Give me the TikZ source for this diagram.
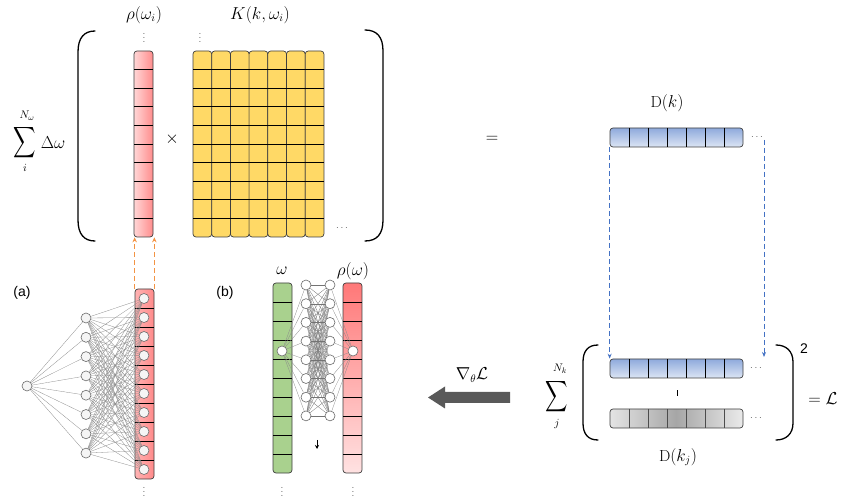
\documentclass[tikz,border=0pt]{standalone}
\usepackage{exscale}
\usepackage{fontspec}
\usepackage{graphicx}
\usetikzlibrary{arrows.meta,calc}
\newfontfamily\arialf{Liberation Sans}
\newcommand\myvd{\vbox{\baselineskip3.6pt\lineskiplimit0pt\hbox{.}\hbox{.}\hbox{.}}}
\definecolor{barline}{HTML}{3F3F3F}
\definecolor{kyellow}{HTML}{FFD966}
\definecolor{rhoL}{HTML}{FFD6D6}
\definecolor{rhoR}{HTML}{FF8C8C}
\definecolor{rhoAL}{HTML}{FFB3B3}
\definecolor{rhoAR}{HTML}{FF8A8A}
\definecolor{rhoBT}{HTML}{FF7878}
\definecolor{rhoBB}{HTML}{FFE2E2}
\definecolor{greenbar}{HTML}{A9D18E}
\definecolor{blueT}{HTML}{8FAADC}
\definecolor{blueB}{HTML}{DCE5F4}
\definecolor{grayL}{HTML}{E4E4E4}
\definecolor{grayM}{HTML}{A6A6A6}
\definecolor{grayR}{HTML}{EAEAEA}
\definecolor{orangeArr}{HTML}{F39444}
\definecolor{blueDash}{HTML}{4472C4}
\definecolor{edgegray}{HTML}{8C8C8C}
\definecolor{nodeline}{HTML}{6A6A6A}
\definecolor{nodefill}{HTML}{F5F5F5}
\definecolor{bigarrow}{HTML}{595959}
\pgfdeclarelayer{bg}
\pgfdeclarelayer{edge}
\pgfsetlayers{bg,edge,main}
\begin{document}
\begin{tikzpicture}[x=1pt,y=-1pt,
  lbl/.style={inner sep=0pt,font=\fontsize{16}{18}\selectfont},
  small/.style={inner sep=0pt,font=\fontsize{11}{12}\selectfont},
  dotsty/.style={inner sep=0pt,font=\fontsize{10}{11}\selectfont,text=black!65},
  bar/.style={draw=barline,line width=0.7pt,rounded corners=3pt,inner sep=0pt,minimum width=19pt},
  cell/.style={line width=0.6pt,draw=black},
  neuron/.style={circle,draw=nodeline,fill=nodefill,line width=0.6pt,minimum size=10pt,inner sep=0pt},
  syn/.style={draw=edgegray,line width=0.3pt},
  paren/.style={line width=1.3pt,line cap=round},
  odash/.style={draw=orangeArr,line width=1.2pt,dash pattern=on 5pt off 3pt,-{Stealth[length=5pt,width=4.5pt]}},
  bdash/.style={draw=blueDash,line width=0.9pt,dash pattern=on 5pt off 3pt,-{Stealth[length=5pt,width=4pt]}},
  sansl/.style={inner sep=0pt,font=\arialf\fontsize{14}{16}\selectfont},
  bigsum/.style={inner sep=0pt},
]
\useasboundingbox (0,0) rectangle (857,502);

% ---------------- top: sum expression ----------------
\node[bigsum] (sumA) at (25,143) {\scalebox{0.9}[1.25]{\fontsize{16}{18}\selectfont$\displaystyle\sum$}};
\node[small] (sumAup) at (27,116) {$N_\omega$};
\node[small] (sumAlo) at (25,168) {$i$};
\node[lbl] (dw) at (53,143) {$\Delta\omega$};

\draw[paren] (95,31) .. controls (84,31) and (78,38) .. (78,52) -- (78,220) .. controls (78,234) and (84,241) .. (95,241);
\draw[paren] (365,30) .. controls (377,30) and (383,37) .. (383,51) -- (383,220) .. controls (383,234) and (377,241) .. (365,241);

\begin{pgfonlayer}{bg}
\node[bar,minimum height=186pt,left color=rhoL,right color=rhoR] (rhoT) at (143.5,144) {};
\foreach \i in {1,...,9} \draw[cell] (134,{51+18.6*\i}) -- (153,{51+18.6*\i});
\foreach \c in {1,...,7} \node[bar,minimum width=18.7pt,minimum height=186pt,fill=kyellow] (K\c) at ({193+18.7*(\c-0.5)},144) {};
\foreach \i in {1,...,9} \draw[cell] (193,{51+18.6*\i}) -- (324,{51+18.6*\i});
\end{pgfonlayer}

\node[lbl] (rhoLab) at (144,15) {$\rho(\omega_i)$};
\node[lbl] (KLab) at (260,15) {$K(k,\omega_i)$};
\node[dotsty] (vd1) at (144,38) {\myvd};
\node[dotsty] (vd2) at (200,38) {\myvd};
\node[lbl] (times) at (172,139) {$\times$};
\node[dotsty] (hd1) at (342,228) {$\cdots$};
\node[lbl] (eq1) at (492,139) {$=$};

% ---------------- right: D(k) ----------------
\node[lbl] (DkLab) at (667,103) {$\mathrm{D}(k)$};
\begin{pgfonlayer}{bg}
\node[bar,minimum width=133pt,minimum height=19pt,top color=blueT,bottom color=blueB] (Dk) at (676.5,137.5) {};
\foreach \i in {1,...,6} \draw[cell] ({610+19*\i},128) -- ({610+19*\i},147);
\node[bar,minimum width=133pt,minimum height=19pt,top color=blueT,bottom color=blueB] (Dkj) at (676.5,368.5) {};
\foreach \i in {1,...,6} \draw[cell] ({610+19*\i},359) -- ({610+19*\i},378);
\node[bar,minimum width=133pt,minimum height=19pt,left color=grayL,right color=grayR,middle color=grayM] (Dg) at (676.5,418.5) {};
\foreach \i in {1,...,6} \draw[cell,draw=black!70] ({610+19*\i},409) -- ({610+19*\i},428);
\end{pgfonlayer}
\node[dotsty] (hd2) at (757,137) {$\cdots$};
\node[dotsty] (hd3) at (756,368) {$\cdots$};
\node[dotsty] (hd4) at (756,418) {$\cdots$};
\coordinate (rdTop) at (764,140);
\coordinate (rdBot) at (764,357);
\draw[bdash] (Dk.south west) -- (Dkj.north west);
\draw[bdash] (rdTop) -- (rdBot);
\draw[line width=0.9pt] (677,390.5) -- (677,396);

\draw[paren] (598,345) .. controls (588,345) and (583,351) .. (583,362) -- (583,423) .. controls (583,434) and (588,440) .. (598,440);
\draw[paren] (776,345) .. controls (786,345) and (793,351) .. (793,362) -- (793,423) .. controls (793,434) and (786,440) .. (776,440);
\node[sansl] (sq) at (804,349) {2};
\node[lbl] (eqL) at (823,399) {$=\mathcal{L}$};
\node[bigsum] (sumB) at (557,397) {\scalebox{0.9}[1.25]{\fontsize{16}{18}\selectfont$\displaystyle\sum$}};
\node[small] (sumBup) at (560,369) {$N_k$};
\node[small] (sumBlo) at (557,424) {$j$};
\node[lbl] (DkjLab) at (678,457) {$\mathrm{D}(k_j)$};

% big arrow
\fill[bigarrow] (510,392) -- (445,392) -- (445,386.5) -- (428,397.5) -- (445,408.5) -- (445,403) -- (510,403) -- cycle;
\node[lbl] (grad) at (472,375) {$\nabla_\theta\mathcal{L}$};

% ---------------- network (a) ----------------
\node[sansl] (labA) at (22,293) {(a)};
\begin{pgfonlayer}{bg}
\node[bar,minimum height=190pt,left color=rhoAL,right color=rhoAR] (rhoA) at (144.5,384) {};
\foreach \i in {1,...,9} \draw[cell] (135,{289+19*\i}) -- (154,{289+19*\i});
\end{pgfonlayer}
\draw[odash] (rhoA.north west) -- (rhoA.north west |- rhoT.south);
\draw[odash] (rhoA.north east) -- (rhoA.north east |- rhoT.south);
\node[neuron] (a0) at (27,386) {};
\foreach \i in {1,...,8} \node[neuron] (h\i) at (86,{318+19.3*(\i-1)}) {};
\foreach \i in {1,...,10} \node[neuron] (o\i) at (144,{298.5+19*(\i-1)}) {};
\begin{pgfonlayer}{edge}
\foreach \i in {1,...,8} \draw[syn] (a0) -- (h\i);
\foreach \i in {1,...,8} \foreach \j in {1,...,10} \draw[syn] (h\i) -- (o\j);
\end{pgfonlayer}
\node[dotsty] (vd3) at (144,492) {\myvd};

% ---------------- network (b) ----------------
\node[sansl] (labB) at (225,293) {(b)};
\node[lbl] (wLab) at (282,271) {$\omega$};
\node[lbl] (rwLab) at (353,271) {$\rho(\omega)$};
\begin{pgfonlayer}{bg}
\node[bar,minimum height=190pt,fill=greenbar] (G) at (282.5,378) {};
\foreach \i in {1,...,9} \draw[cell] (273,{283+19*\i}) -- (292,{283+19*\i});
\node[bar,minimum height=190pt,top color=rhoBT,bottom color=rhoBB] (R) at (352.5,378) {};
\foreach \i in {1,...,9} \draw[cell] (343,{283+19*\i}) -- (362,{283+19*\i});
\end{pgfonlayer}
\node[neuron,fill=white] (bi) at (282,351) {};
\node[neuron,fill=white] (bo) at (353,351) {};
\foreach \i in {1,...,8} \node[neuron,fill=white] (p\i) at (306,{285+18.7*(\i-1)}) {};
\foreach \i in {1,...,8} \node[neuron,fill=white] (q\i) at (330,{285+18.7*(\i-1)}) {};
\begin{pgfonlayer}{edge}
\foreach \i in {1,...,8} \draw[syn] (bi) -- (p\i);
\foreach \i in {1,...,8} \foreach \j in {1,...,8} \draw[syn,draw=black!55] (p\i) -- (q\j);
\foreach \i in {1,...,8} \draw[syn] (q\i) -- (bo);
\end{pgfonlayer}
\coordinate (dnTop) at (317,440);
\coordinate (dnBot) at (317,449);
\draw[line width=0.7pt,-{Stealth[length=4pt,width=4pt]}] (dnTop) -- (dnBot);
\node[dotsty] (vd4) at (282,492) {\myvd};
\node[dotsty] (vd5) at (353,492) {\myvd};
\end{tikzpicture}
\end{document}
